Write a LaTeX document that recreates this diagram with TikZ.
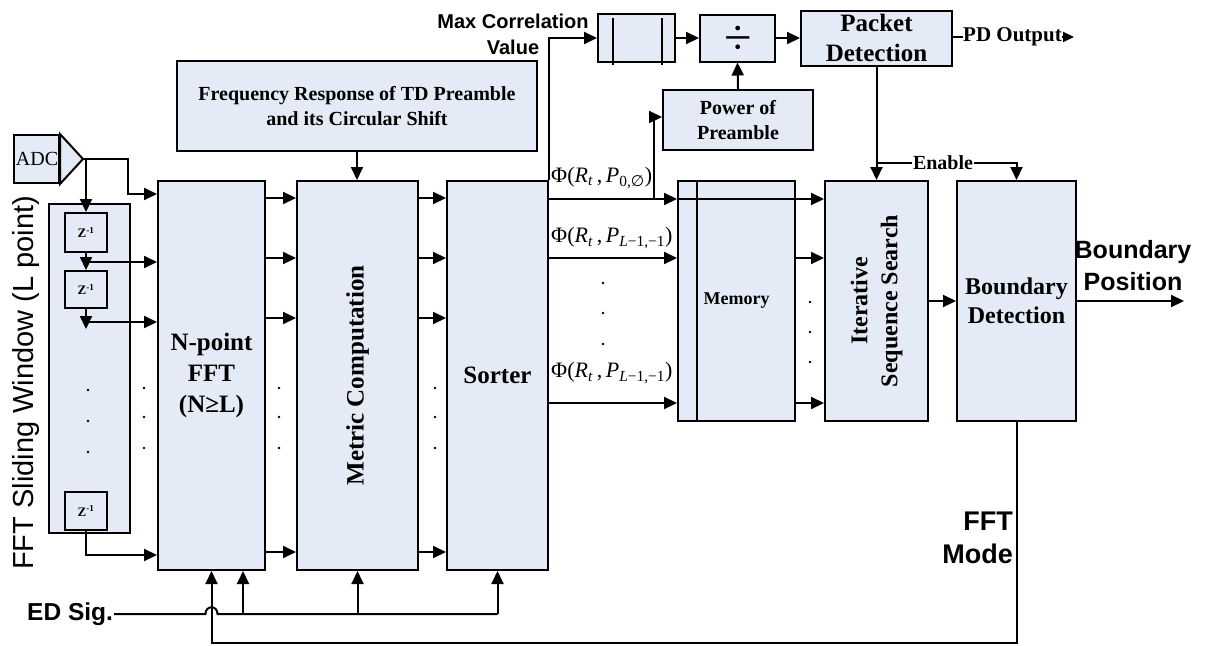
\documentclass[tikz,border=0pt]{standalone}
\usepackage{fontspec}
\setmainfont{Liberation Serif}
\newfontfamily\arialfont{Liberation Sans}
\newfontfamily\djvfont{DejaVu Sans}
\usetikzlibrary{arrows.meta,calc}
\definecolor{boxfill}{RGB}{228,235,247}
\newcommand\fsz[2]{\fontsize{#1}{#2}\selectfont}
\begin{document}
\begin{tikzpicture}[x=1pt,y=-1pt,
  blk/.style={draw, line width=2pt, fill=boxfill, inner sep=0pt, align=center, font=\bfseries},
  ln/.style={line width=2pt},
  arr/.style={line width=2pt, -{Triangle[length=13pt,width=12pt]}},
  sarr/.style={line width=2pt, -{Triangle[length=11pt,width=10pt]}},
  lab/.style={inner sep=0pt, align=center}]
\useasboundingbox (0,0) rectangle (1209,645);

% ---------- boxes ----------
\node[blk, minimum width=45pt, minimum height=48pt] (adc) at (36.5,159) {};
\coordinate (tip) at (83,159);
\draw[ln, fill=boxfill, line join=miter] (adc.north east) -- (tip) -- (adc.south east) -- cycle;
\node[lab, font=\fsz{20}{20}] at (37,159) {ADC};

\node[blk, minimum width=81pt, minimum height=329pt] (win) at (89.5,368.5) {};
\node[blk, minimum width=42pt, minimum height=39pt, font=\bfseries\fsz{13}{13}] (z1) at (86,232.5) {Z\textsuperscript{-1}};
\node[blk, minimum width=42pt, minimum height=37pt, font=\bfseries\fsz{13}{13}] (z2) at (86,289.5) {Z\textsuperscript{-1}};
\node[blk, minimum width=42pt, minimum height=38pt, font=\bfseries\fsz{13}{13}] (z3) at (86,511) {Z\textsuperscript{-1}};

\node[blk, minimum width=107pt, minimum height=389pt, font=\bfseries\fsz{25}{31}] (fft) at (211.5,375.5) {N-point\\FFT\\(N≥L)};
\node[blk, minimum width=121pt, minimum height=389pt] (met) at (357.5,375.5) {};
\node[lab, rotate=90, font=\bfseries\fsz{25}{31}] at (met.center) {Metric Computation};
\node[blk, minimum width=101pt, minimum height=389pt, font=\bfseries\fsz{25}{31}] (sor) at (497.5,375.5) {Sorter};

\node[blk, minimum width=360pt, minimum height=90pt, font=\bfseries\fsz{20}{25}] (freq) at (357,106) {Frequency Response of TD Preamble\\and its Circular Shift};

\node[blk, minimum width=117pt, minimum height=240pt, font=\bfseries\fsz{18}{22}] (mem) at (736.5,301) {Memory};
\draw[ln] (697,181) -- (697,421);
\node[blk, minimum width=103pt, minimum height=240pt] (iss) at (876.5,301) {};
\node[lab, rotate=90, font=\bfseries\fsz{24}{30}] at (iss.center) {Iterative\\Sequence Search};
\node[blk, minimum width=119pt, minimum height=240pt, font=\bfseries\fsz{24}{29}] (bd) at (1016.5,301) {Boundary\\Detection};

\node[blk, minimum width=77pt, minimum height=48pt] (reg) at (636.5,38) {};
\draw[ln] (613,18) -- (613,65);
\draw[ln] (662,18) -- (662,65);
\node[blk, minimum width=75pt, minimum height=47pt] (div) at (737.5,38) {};
\node[lab, font=\fsz{50}{50}] at (738,40) {÷};
\node[blk, minimum width=151pt, minimum height=55pt, font=\bfseries\fsz{25}{30}] (pd) at (876.5,38) {Packet\\Detection};
\node[blk, minimum width=150pt, minimum height=60pt, font=\bfseries\fsz{20}{25}] (pow) at (738,120) {Power of\\Preamble};

% ---------- labels ----------
\node[lab, rotate=90, anchor=base, font=\arialfont\fsz{29}{29}] (winlab) at (33,383) {FFT Sliding Window (L point)};
\node[lab, font=\arialfont\bfseries\fsz{20}{26}] (maxc) at (513,34) {Max Correlation\\Value};
\node[lab, anchor=west, font=\bfseries\fsz{21}{21}] (pdout) at (963,37) {PD Output};
\coordinate (pdend) at (1074,37);
\node[inner sep=1pt, font=\bfseries\fsz{20}{20}] (en) at (943,163) {Enable};
\node[lab, font=\arialfont\bfseries\fsz{25}{32}] (bpos) at (1133,266) {Boundary\\Position};
\coordinate (bposend) at (1184,301);
\node[lab, anchor=east, align=right, font=\arialfont\bfseries\fsz{27}{33}] (fmode) at (1013,538) {FFT\\Mode};
\node[inner sep=1pt, anchor=west, font=\arialfont\bfseries\fsz{24.5}{24.5}] (ed) at (26,614) {ED Sig.};

\node[lab, anchor=west, font=\fsz{22}{22}] (phi1) at (551,178) {Φ(\textit{R}\textsubscript{\textit{t}}\,,\,\textit{P}\textsubscript{0,{\djvfont ∅}})};
\node[lab, anchor=west, font=\fsz{22}{22}] (phi2) at (551,238) {Φ(\textit{R}\textsubscript{\textit{t}}\,,\,\textit{P}\textsubscript{\textit{L}−1,−1})};
\node[lab, anchor=west, font=\fsz{22}{22}] (phi3) at (551,373) {Φ(\textit{R}\textsubscript{\textit{t}}\,,\,\textit{P}\textsubscript{\textit{L}−1,−1})};

% ---------- connectors: left part ----------
\draw[arr] (tip) -| (128,194) -- (fft.west |- 0,194);
\draw[arr] (tip -| z1.north) -- (z1.north);
\draw[arr] (z1.south) -- (z2.north);
\draw[arr] (z1.south |- 0,262) -- (fft.west |- 0,262);
\draw[arr] (z2.south) -- ++(0,20);
\draw[arr] (z2.south |- 0,322) -- (fft.west |- 0,322);
\draw[arr] (z3.south) |- (fft.west |- 0,555);

\foreach \yy in {198,258,318,552} {
  \draw[arr] (fft.east |- 0,\yy) -- (met.west |- 0,\yy);
  \draw[arr] (met.east |- 0,\yy) -- (sor.west |- 0,\yy);
}
\draw[arr] (freq.south) -- (freq.south |- met.north);

% ---------- connectors: right part ----------
\draw[arr] (sor.east |- 0,199) -- (mem.west |- 0,199);
\draw[arr] (mem.west |- 0,199) -- (iss.west |- 0,199);
\foreach \yy in {258,403} {
  \draw[arr] (sor.east |- 0,\yy) -- (mem.west |- 0,\yy);
  \draw[arr] (mem.east |- 0,\yy) -- (iss.west |- 0,\yy);
}
\coordinate (br) at (654,199);
\draw[arr] (br) |- (pow.west |- 0,117);
\draw[arr] (sor.north east) |- (reg.west);
\draw[arr] (reg.east) -- (div.west);
\draw[arr] (div.east) -- (pd.west);
\draw[arr] (pow.north) -- (div.south);
\draw[ln] (pd.east |- pdout.west) -- (pdout.west);
\draw[sarr] (pdout.east) -- (pdend);
\draw[arr] (pd.south) -- (iss.north);
\draw[ln] (pd.south |- en.west) -- (en.west);
\draw[arr] (en.east) -| (bd.north);
\draw[arr] (iss.east) -- (bd.west);
\draw[arr] (bd.east) -- (bposend);

% ---------- bottom ----------
\draw[arr] (bd.south) |- (fft.south |- 0,643) -- (fft.south);
\draw[ln] (ed.east) -- (205.5,614) .. controls (205.5,605) and (217.5,605) .. (217.5,614) -- (sor.south |- 0,614);
\draw[arr] (243,614) -- (fft.south -| 243,0);
\draw[arr] (met.south |- 0,614) -- (met.south);
\draw[arr] (sor.south |- 0,614) -- (sor.south);

% ---------- dots ----------
\foreach \xx/\ya/\yb/\yc in {88/390/421/452, 144/388/417/448, 279/388/417/448, 435/388/417/448, 603/283/313/344, 810/302/332/362} {
  \fill (\xx,\ya) circle (1.3pt);
  \fill (\xx,\yb) circle (1.3pt);
  \fill (\xx,\yc) circle (1.3pt);
}
\end{tikzpicture}
\end{document}
